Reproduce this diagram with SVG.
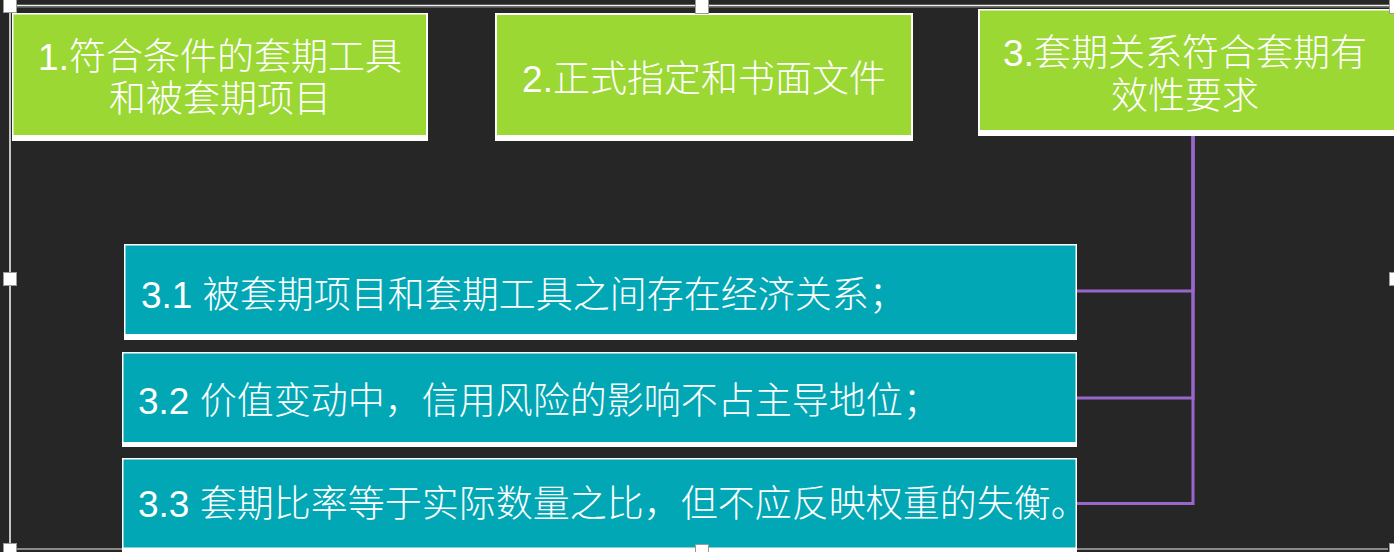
<svg xmlns="http://www.w3.org/2000/svg" width="1394" height="552" viewBox="0 0 1394 552">
<style>
.bg{fill:#262626}
.frame{fill:#ffffff}
.green{fill:#9BD833}
.teal{fill:#02A7B5}
.t{font-family:"Liberation Sans","Noto Sans CJK SC",sans-serif;font-size:37px;font-weight:300;fill:#ffffff}
.c{text-anchor:middle}
.conn{fill:none;stroke:#9966CC;stroke-width:3}
.handle{fill:#ffffff;stroke:#9a9a9a;stroke-width:1}
</style>
<rect class="bg" x="0" y="0" width="1394" height="552"/>
<g id="selection">
<line x1="17" y1="5.5" x2="1390" y2="5.5" stroke="#eeeeee" stroke-width="1.5"/>
<line x1="17" y1="7" x2="1390" y2="7" stroke="#8a8a8a" stroke-width="1"/>
<line x1="10" y1="13" x2="10" y2="545" stroke="#c4c4c4" stroke-width="2"/>
<line x1="17" y1="549" x2="1388" y2="549" stroke="#8a8a8a" stroke-width="2"/>
</g>
<g id="connectors">
<path class="conn" d="M1193 136 V291 H1077"/>
<path class="conn" d="M1193 136 V398 H1077"/>
<path class="conn" d="M1193 136 V503.5 H1077"/>
</g>
<g id="node1">
<rect class="frame" x="12" y="13" width="416" height="128"/>
<rect class="green" x="13.5" y="14.5" width="412.5" height="120.5"/>
<text class="t c" x="220" y="70">1.符合条件的套期工具</text>
<text class="t c" x="220" y="112">和被套期项目</text>
</g>
<g id="node2">
<rect class="frame" x="495" y="13" width="418" height="128"/>
<rect class="green" x="497" y="15" width="414" height="120"/>
<text class="t c" x="704" y="92">2.正式指定和书面文件</text>
</g>
<g id="node3">
<rect class="frame" x="978" y="9" width="430" height="127"/>
<rect class="green" x="980" y="10.5" width="430" height="119.5"/>
<text class="t c" x="1185" y="66">3.套期关系符合套期有</text>
<text class="t c" x="1185" y="109">效性要求</text>
</g>
<g id="node3-1">
<rect class="frame" x="124" y="244" width="953" height="96"/>
<rect class="teal" x="125.5" y="245.5" width="950" height="88.5"/>
<text class="t" x="141" y="308">3.1 被套期项目和套期工具之间存在经济关系；</text>
</g>
<g id="node3-2">
<rect class="frame" x="122" y="352" width="955" height="95"/>
<rect class="teal" x="123.5" y="353.5" width="952" height="88.5"/>
<text class="t" x="138" y="414">3.2 价值变动中，信用风险的影响不占主导地位；</text>
</g>
<g id="node3-3">
<rect class="frame" x="122" y="458" width="955" height="94"/>
<rect class="teal" x="123.5" y="459.5" width="952" height="88"/>
<text class="t" x="138" y="517">3.3 套期比率等于实际数量之比，但不应反映权重的失衡。</text>
</g>
<g id="handles">
<rect class="handle" x="3.5" y="-1" width="13" height="13.5"/>
<rect class="handle" x="695.5" y="-1" width="13" height="14.5"/>
<rect class="handle" x="1389.5" y="-1" width="13" height="14.5"/>
<rect class="handle" x="3.5" y="272.5" width="13" height="13"/>
<rect class="handle" x="1389.5" y="272.5" width="13" height="13"/>
<rect class="handle" x="3.5" y="543.5" width="13" height="13"/>
<rect class="handle" x="695.5" y="544.5" width="13" height="13"/>
<rect class="handle" x="1389.5" y="543.5" width="13" height="13"/>
</g>
</svg>
